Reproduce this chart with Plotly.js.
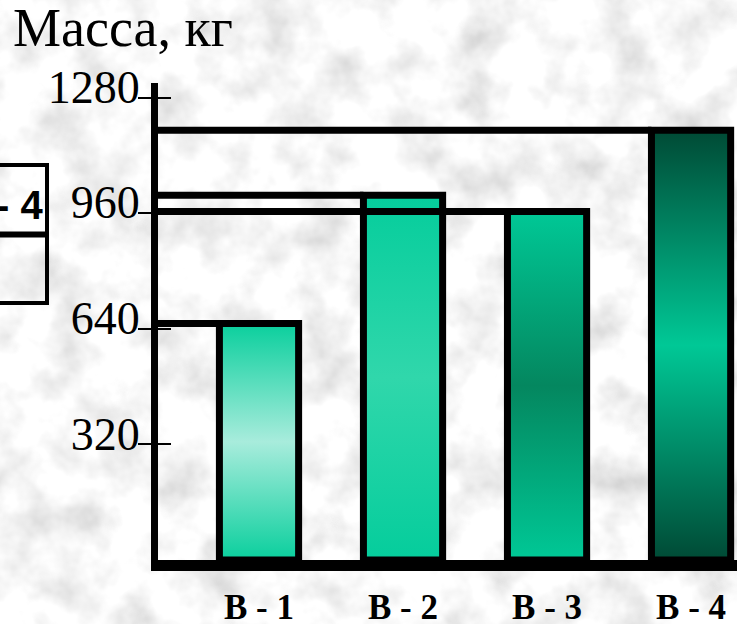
<!DOCTYPE html>
<html>
<head>
<meta charset="utf-8">
<script src="https://cdn.plot.ly/plotly-3.0.1.min.js"></script>
<style>
  html, body { margin: 0; padding: 0; width: 737px; height: 624px; overflow: hidden; background: #ebebeb; }
  #chart { width: 737px; height: 624px; }
</style>
</head>
<body>
<div id="chart"></div>
<script>
// ---- data ----
const categories = ['В - 1', 'В - 2', 'В - 3', 'В - 4'];
const masses = [655, 1010, 965, 1190];
const yTickVals = [320, 640, 960, 1280];
const yTickText = ['320', '640', '960', '1280'];
const titleText = 'Масса, кг';
const legendText = 'В - 4';

// ---- styling ----
const gradients = [
  ['#0acf9d', '#a8ecdc', '#0acf9d'],
  ['#05cd9c', '#30d7ab', '#05cd9c'],
  ['#00c896', '#04875f', '#00c896'],
  ['#004a35', '#00c896', '#004a35']
];

// granite-like background
(function () {
  const svg = "<svg xmlns='http://www.w3.org/2000/svg' width='737' height='624'>" +
    "<filter id='n'><feTurbulence type='fractalNoise' baseFrequency='0.02' numOctaves='4' seed='7'/>" +
    "<feColorMatrix type='matrix' values='0.7 0 0 0 0.59  0.7 0 0 0 0.59  0.7 0 0 0 0.59  0 0 0 0 1'/></filter>" +
    "<rect width='100%' height='100%' filter='url(#n)'/></svg>";
  document.body.style.backgroundImage = 'url("data:image/svg+xml,' + encodeURIComponent(svg) + '")';
})();

const L = 158, T = 83, W = 737 - 158, H = 560 - 83;
const px = x => (x - L) / W;
const py = y => (T + H - y) / H;

const barWidth = 0.55;
const xRange = [-0.7014, 3.319];
const yRange = [0, 1321];

const traces = [
  {
    type: 'bar',
    x: categories,
    y: masses,
    width: barWidth,
    marker: { color: '#00c896', line: { color: '#000', width: 7 } },
    hoverinfo: 'skip'
  },
  { type: 'scatter', x: [], y: [], yaxis: 'y2', hoverinfo: 'skip', showlegend: false },
  { type: 'scatter', x: [], y: [], yaxis: 'y3', hoverinfo: 'skip', showlegend: false }
];

const shapes = masses.map((v, i) => ({
  type: 'line', xref: 'x', yref: 'y',
  x0: xRange[0], x1: i - barWidth / 2, y0: v, y1: v,
  line: { color: '#000', width: 7 }, layer: 'above'
}));
// partial legend box at left edge
shapes.push({
  type: 'rect', xref: 'paper', yref: 'paper',
  x0: px(-10), x1: px(47), y0: py(165), y1: py(303),
  line: { color: '#000', width: 4 }, fillcolor: 'rgba(0,0,0,0)'
});
shapes.push({
  type: 'line', xref: 'paper', yref: 'paper',
  x0: px(-10), x1: px(47), y0: py(234.5), y1: py(234.5),
  line: { color: '#000', width: 6 }
});

const tickAxisBase = {
  overlaying: 'y', side: 'left', anchor: 'x',
  range: yRange, tickwidth: 2, tickcolor: '#000',
  tickvals: yTickVals, showticklabels: false,
  showgrid: false, zeroline: false, showline: false
};

const layout = {
  width: 737, height: 624,
  margin: { l: L, r: 0, t: T, b: 624 - 560 },
  paper_bgcolor: 'rgba(0,0,0,0)',
  plot_bgcolor: 'rgba(0,0,0,0)',
  showlegend: false,
  font: { family: '"Liberation Serif", "Times New Roman", serif', color: '#000' },
  xaxis: {
    type: 'category',
    range: xRange,
    showline: true, linecolor: '#000', linewidth: 11,
    ticks: '', showgrid: false, zeroline: false,
    tickfont: { family: '"Liberation Serif", serif', size: 35, color: '#000', weight: 'bold' },
    ticklabelstandoff: 6
  },
  yaxis: {
    range: yRange,
    showline: true, linecolor: '#000', linewidth: 7,
    ticks: '',
    tickvals: yTickVals, ticktext: yTickText,
    showgrid: false, zeroline: false,
    tickfont: { family: '"Liberation Serif", serif', size: 46, color: '#000' },
    ticklabelshift: -11,
    ticklabelstandoff: 2
  },
  yaxis2: Object.assign({}, tickAxisBase, { ticks: 'outside', ticklen: 19 }),
  yaxis3: Object.assign({}, tickAxisBase, { ticks: 'inside', ticklen: 13 }),
  shapes: shapes,
  annotations: [
    {
      text: titleText, showarrow: false,
      xref: 'paper', yref: 'paper', x: px(11), xanchor: 'left',
      y: py(28), yanchor: 'middle',
      font: { family: '"Liberation Serif", serif', size: 54, color: '#000' }
    },
    {
      text: legendText, showarrow: false,
      xref: 'paper', yref: 'paper', x: px(45), xanchor: 'right',
      y: py(205), yanchor: 'middle',
      font: { family: '"Liberation Sans", Arial, sans-serif', size: 40, color: '#000', weight: 'bold' }
    }
  ]
};

Plotly.newPlot('chart', traces, layout, { staticPlot: true }).then(function (gd) {
  const svg = gd.querySelector('svg.main-svg');
  const NS = 'http://www.w3.org/2000/svg';
  let defs = svg.querySelector('defs');
  if (!defs) { defs = document.createElementNS(NS, 'defs'); svg.insertBefore(defs, svg.firstChild); }
  gradients.forEach(function (stops, i) {
    const g = document.createElementNS(NS, 'linearGradient');
    g.setAttribute('id', 'barGrad' + i);
    g.setAttribute('x1', '0'); g.setAttribute('y1', '0');
    g.setAttribute('x2', '0'); g.setAttribute('y2', '1');
    stops.forEach(function (c, k) {
      const s = document.createElementNS(NS, 'stop');
      s.setAttribute('offset', String(k / (stops.length - 1)));
      s.setAttribute('stop-color', c);
      g.appendChild(s);
    });
    defs.appendChild(g);
  });
  const paths = gd.querySelectorAll('.barlayer .point path');
  paths.forEach(function (p, i) { p.style.fill = 'url(#barGrad' + i + ')'; });
});
</script>
</body>
</html>
